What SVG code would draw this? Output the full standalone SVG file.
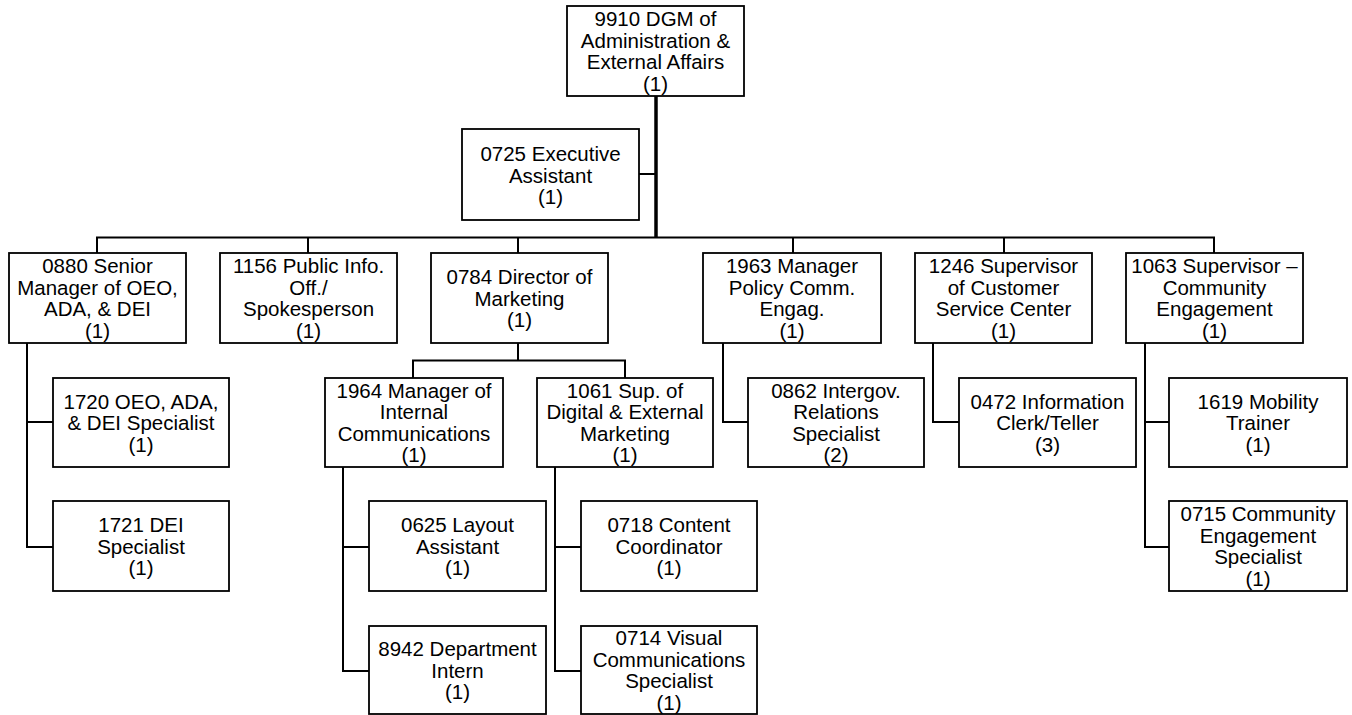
<svg xmlns="http://www.w3.org/2000/svg" width="1352" height="715" viewBox="0 0 1352 715">
<style>
.box{fill:#fff;stroke:#000;stroke-width:1.8}
.t{font-family:"Liberation Sans",Arial,sans-serif;font-size:20.5px;fill:#000;text-anchor:middle}
.ln{fill:none;stroke:#000;stroke-width:2}
.trunk{fill:none;stroke:#000;stroke-width:3.5}
</style>
<rect width="1352" height="715" fill="#fff"/>
<g id="connectors">
<path class="trunk" d="M656 96V238"/>
<path class="ln" d="M639 174H656"/>
<path class="ln" d="M97 253V237.5H1214V253M308 237.5V253M518 237.5V253M793 237.5V253M1004 237.5V253"/>
<path class="ln" d="M518 343V360.5M413 378V360.5H625V378"/>
<path class="ln" d="M27 343V547H53M27 422H53"/>
<path class="ln" d="M343 467V671H369M343 547H369"/>
<path class="ln" d="M555 467V671H581M555 547H581"/>
<path class="ln" d="M723 343V422H748"/>
<path class="ln" d="M933 343V422H959"/>
<path class="ln" d="M1145 343V547H1169M1145 422H1169"/>
</g>
<g id="n9910"><rect class="box" x="567" y="6" width="177" height="90"/>
<text class="t"><tspan x="655.5" y="26">9910 DGM of</tspan><tspan x="655.5" y="47.5">Administration &amp;</tspan><tspan x="655.5" y="69">External Affairs</tspan><tspan x="655.5" y="90.5">(1)</tspan></text></g>
<g id="n0725"><rect class="box" x="462" y="129" width="177" height="91"/>
<text class="t"><tspan x="550.5" y="161">0725 Executive</tspan><tspan x="550.5" y="182.5">Assistant</tspan><tspan x="550.5" y="204">(1)</tspan></text></g>
<g id="n0880"><rect class="box" x="9" y="253" width="177" height="90"/>
<text class="t"><tspan x="97.5" y="273">0880 Senior</tspan><tspan x="97.5" y="294.5">Manager of OEO,</tspan><tspan x="97.5" y="316">ADA, &amp; DEI</tspan><tspan x="97.5" y="337.5">(1)</tspan></text></g>
<g id="n1156"><rect class="box" x="220" y="253" width="177" height="90"/>
<text class="t"><tspan x="308.5" y="273">1156 Public Info.</tspan><tspan x="308.5" y="294.5">Off./</tspan><tspan x="308.5" y="316">Spokesperson</tspan><tspan x="308.5" y="337.5">(1)</tspan></text></g>
<g id="n0784"><rect class="box" x="431" y="253" width="177" height="90"/>
<text class="t"><tspan x="519.5" y="284">0784 Director of</tspan><tspan x="519.5" y="305.5">Marketing</tspan><tspan x="519.5" y="327">(1)</tspan></text></g>
<g id="n1963"><rect class="box" x="703" y="253" width="178" height="90"/>
<text class="t"><tspan x="792" y="273">1963 Manager</tspan><tspan x="792" y="294.5">Policy Comm.</tspan><tspan x="792" y="316">Engag.</tspan><tspan x="792" y="337.5">(1)</tspan></text></g>
<g id="n1246"><rect class="box" x="915" y="253" width="177" height="90"/>
<text class="t"><tspan x="1003.5" y="273">1246 Supervisor</tspan><tspan x="1003.5" y="294.5">of Customer</tspan><tspan x="1003.5" y="316">Service Center</tspan><tspan x="1003.5" y="337.5">(1)</tspan></text></g>
<g id="n1063"><rect class="box" x="1126" y="253" width="177" height="90"/>
<text class="t"><tspan x="1214.5" y="273">1063 Supervisor –</tspan><tspan x="1214.5" y="294.5">Community</tspan><tspan x="1214.5" y="316">Engagement</tspan><tspan x="1214.5" y="337.5">(1)</tspan></text></g>
<g id="n1720"><rect class="box" x="53" y="378" width="176" height="89"/>
<text class="t"><tspan x="141" y="408.5">1720 OEO, ADA,</tspan><tspan x="141" y="430">&amp; DEI Specialist</tspan><tspan x="141" y="451.5">(1)</tspan></text></g>
<g id="n1964"><rect class="box" x="325" y="378" width="178" height="89"/>
<text class="t"><tspan x="414" y="397.5">1964 Manager of</tspan><tspan x="414" y="419">Internal</tspan><tspan x="414" y="440.5">Communications</tspan><tspan x="414" y="462">(1)</tspan></text></g>
<g id="n1061"><rect class="box" x="537" y="378" width="176" height="89"/>
<text class="t"><tspan x="625" y="397.5">1061 Sup. of</tspan><tspan x="625" y="419">Digital &amp; External</tspan><tspan x="625" y="440.5">Marketing</tspan><tspan x="625" y="462">(1)</tspan></text></g>
<g id="n0862"><rect class="box" x="748" y="378" width="176" height="89"/>
<text class="t"><tspan x="836" y="397.5">0862 Intergov.</tspan><tspan x="836" y="419">Relations</tspan><tspan x="836" y="440.5">Specialist</tspan><tspan x="836" y="462">(2)</tspan></text></g>
<g id="n0472"><rect class="box" x="959" y="378" width="177" height="89"/>
<text class="t"><tspan x="1047.5" y="408.5">0472 Information</tspan><tspan x="1047.5" y="430">Clerk/Teller</tspan><tspan x="1047.5" y="451.5">(3)</tspan></text></g>
<g id="n1619"><rect class="box" x="1169" y="378" width="178" height="89"/>
<text class="t"><tspan x="1258" y="408.5">1619 Mobility</tspan><tspan x="1258" y="430">Trainer</tspan><tspan x="1258" y="451.5">(1)</tspan></text></g>
<g id="n1721"><rect class="box" x="53" y="501" width="176" height="90"/>
<text class="t"><tspan x="141" y="532">1721 DEI</tspan><tspan x="141" y="553.5">Specialist</tspan><tspan x="141" y="575">(1)</tspan></text></g>
<g id="n0625"><rect class="box" x="369" y="501" width="177" height="90"/>
<text class="t"><tspan x="457.5" y="532">0625 Layout</tspan><tspan x="457.5" y="553.5">Assistant</tspan><tspan x="457.5" y="575">(1)</tspan></text></g>
<g id="n0718"><rect class="box" x="581" y="501" width="176" height="90"/>
<text class="t"><tspan x="669" y="532">0718 Content</tspan><tspan x="669" y="553.5">Coordinator</tspan><tspan x="669" y="575">(1)</tspan></text></g>
<g id="n0715"><rect class="box" x="1169" y="501" width="178" height="90"/>
<text class="t"><tspan x="1258" y="521">0715 Community</tspan><tspan x="1258" y="542.5">Engagement</tspan><tspan x="1258" y="564">Specialist</tspan><tspan x="1258" y="585.5">(1)</tspan></text></g>
<g id="n8942"><rect class="box" x="369" y="626" width="177" height="88"/>
<text class="t"><tspan x="457.5" y="656">8942 Department</tspan><tspan x="457.5" y="677.5">Intern</tspan><tspan x="457.5" y="699">(1)</tspan></text></g>
<g id="n0714"><rect class="box" x="581" y="626" width="176" height="88"/>
<text class="t"><tspan x="669" y="645">0714 Visual</tspan><tspan x="669" y="666.5">Communications</tspan><tspan x="669" y="688">Specialist</tspan><tspan x="669" y="709.5">(1)</tspan></text></g>
</svg>
